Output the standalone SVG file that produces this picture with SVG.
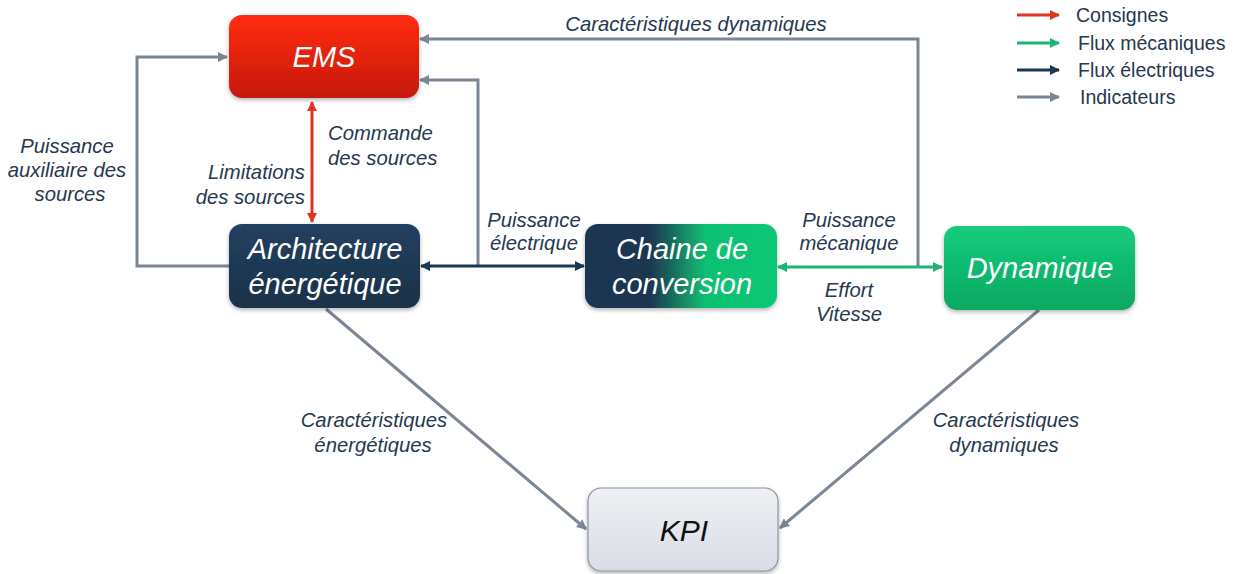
<svg xmlns="http://www.w3.org/2000/svg" width="1235" height="574" viewBox="0 0 1235 574">
<style>
.lbl{font-family:"Liberation Sans",Arial,sans-serif;font-style:italic;font-size:20.3px;fill:#26384f}
.ntx{font-family:"Liberation Sans",Arial,sans-serif;font-style:italic;font-size:29px;fill:#ffffff}
.leg{font-family:"Liberation Sans",Arial,sans-serif;font-size:19.5px;fill:#26384f}
.gray{stroke:#7b8595;stroke-width:3;fill:none}
.red{stroke:#e03424;stroke-width:3;fill:none}
.navy{stroke:#1d3651;stroke-width:3;fill:none}
.green{stroke:#1fb374;stroke-width:3;fill:none}
</style>
<defs>
<linearGradient id="gRed" x1="0" y1="0" x2="0" y2="1"><stop offset="0" stop-color="#ff2c12"/><stop offset="1" stop-color="#c6190b"/></linearGradient>
<linearGradient id="gNavy" x1="0" y1="0" x2="0" y2="1"><stop offset="0" stop-color="#22405f"/><stop offset="1" stop-color="#1b3249"/></linearGradient>
<linearGradient id="gGreen" x1="0" y1="0" x2="0" y2="1"><stop offset="0" stop-color="#13cc7c"/><stop offset="1" stop-color="#0ea862"/></linearGradient>
<linearGradient id="gConv" x1="0" y1="0" x2="1" y2="0"><stop offset="0" stop-color="#1d3651"/><stop offset="0.34" stop-color="#1d3651"/><stop offset="0.63" stop-color="#10c072"/><stop offset="1" stop-color="#10c776"/></linearGradient>
<linearGradient id="gKpi" x1="0" y1="0" x2="0" y2="1"><stop offset="0" stop-color="#eef0f4"/><stop offset="1" stop-color="#d9dde5"/></linearGradient>
<filter id="sh" x="-10%" y="-10%" width="120%" height="130%"><feDropShadow dx="0" dy="2" stdDeviation="2" flood-color="#000" flood-opacity="0.3"/></filter>
<marker id="aGray" viewBox="0 0 10 10" refX="9" refY="5" markerWidth="10" markerHeight="10" markerUnits="userSpaceOnUse" orient="auto-start-reverse"><path d="M0,0 L10,5 L0,10 z" fill="#7b8595"/></marker>
<marker id="aRed" viewBox="0 0 10 10" refX="9" refY="5" markerWidth="10" markerHeight="10" markerUnits="userSpaceOnUse" orient="auto-start-reverse"><path d="M0,0 L10,5 L0,10 z" fill="#e03424"/></marker>
<marker id="aNavy" viewBox="0 0 10 10" refX="9" refY="5" markerWidth="10" markerHeight="10" markerUnits="userSpaceOnUse" orient="auto-start-reverse"><path d="M0,0 L10,5 L0,10 z" fill="#1d3651"/></marker>
<marker id="aGreen" viewBox="0 0 10 10" refX="9" refY="5" markerWidth="10" markerHeight="10" markerUnits="userSpaceOnUse" orient="auto-start-reverse"><path d="M0,0 L10,5 L0,10 z" fill="#1fb374"/></marker>
</defs>
<rect width="1235" height="574" fill="#ffffff"/>

<g id="connectors">
<polyline class="gray" points="918,267 918,39 420,39" marker-end="url(#aGray)"/>
<polyline class="gray" points="478,266 478,80 420,80" marker-end="url(#aGray)"/>
<polyline class="gray" points="229,266 137,266 137,57 227,57" marker-end="url(#aGray)"/>
<line class="red" x1="312" y1="102" x2="312" y2="222" marker-start="url(#aRed)" marker-end="url(#aRed)"/>
<line class="navy" x1="421" y1="266" x2="584" y2="266" marker-start="url(#aNavy)" marker-end="url(#aNavy)"/>
<line class="green" x1="778" y1="267" x2="942" y2="267" marker-start="url(#aGreen)" marker-end="url(#aGreen)"/>
<line class="gray" x1="326" y1="309" x2="586" y2="529" marker-end="url(#aGray)"/>
<line class="gray" x1="1039" y1="310" x2="780" y2="528" marker-end="url(#aGray)"/>
</g>

<g id="labels">
<text class="lbl" x="696" y="31" text-anchor="middle">Caractéristiques dynamiques</text>
<text class="lbl" x="328" y="140">Commande</text>
<text class="lbl" x="328" y="165">des sources</text>
<text class="lbl" x="305" y="179" text-anchor="end">Limitations</text>
<text class="lbl" x="305" y="204" text-anchor="end">des sources</text>
<text class="lbl" x="67" y="153" text-anchor="middle">Puissance</text>
<text class="lbl" x="67" y="177" text-anchor="middle">auxiliaire des</text>
<text class="lbl" x="70" y="201" text-anchor="middle">sources</text>
<text class="lbl" x="534" y="227" text-anchor="middle">Puissance</text>
<text class="lbl" x="534" y="250" text-anchor="middle">électrique</text>
<text class="lbl" x="849" y="227" text-anchor="middle">Puissance</text>
<text class="lbl" x="849" y="250" text-anchor="middle">mécanique</text>
<text class="lbl" x="849" y="297" text-anchor="middle">Effort</text>
<text class="lbl" x="849" y="321" text-anchor="middle">Vitesse</text>
<text class="lbl" x="374" y="427" text-anchor="middle">Caractéristiques</text>
<text class="lbl" x="373" y="452" text-anchor="middle">énergétiques</text>
<text class="lbl" x="1006" y="427" text-anchor="middle">Caractéristiques</text>
<text class="lbl" x="1004" y="452" text-anchor="middle">dynamiques</text>
</g>

<g id="node-ems">
<rect x="229" y="15" width="190" height="83" rx="13" fill="url(#gRed)" filter="url(#sh)"/>
<text class="ntx" x="324" y="67" text-anchor="middle">EMS</text>
</g>
<g id="node-architecture">
<rect x="229" y="224" width="191" height="84" rx="13" fill="url(#gNavy)" filter="url(#sh)"/>
<text class="ntx" x="325" y="259" text-anchor="middle">Architecture</text>
<text class="ntx" x="325" y="294" text-anchor="middle">énergétique</text>
</g>
<g id="node-chaine">
<rect x="585" y="224" width="192" height="84" rx="13" fill="url(#gConv)" filter="url(#sh)"/>
<text class="ntx" x="682" y="259" text-anchor="middle">Chaine de</text>
<text class="ntx" x="682" y="294" text-anchor="middle">conversion</text>
</g>
<g id="node-dynamique">
<rect x="944" y="226" width="191" height="84" rx="13" fill="url(#gGreen)" filter="url(#sh)"/>
<text class="ntx" x="1040" y="278" text-anchor="middle">Dynamique</text>
</g>
<g id="node-kpi">
<rect x="588" y="488" width="190" height="83" rx="13" fill="url(#gKpi)" stroke="#8a93a2" stroke-width="1.2" filter="url(#sh)"/>
<text x="684" y="541" text-anchor="middle" font-family="Liberation Sans, Arial, sans-serif" font-style="italic" font-size="30" fill="#111111">KPI</text>
</g>

<g id="legend">
<line class="red" x1="1017" y1="15" x2="1059" y2="15" marker-end="url(#aRed)"/>
<line class="green" x1="1017" y1="43" x2="1059" y2="43" marker-end="url(#aGreen)"/>
<line class="navy" x1="1017" y1="70" x2="1059" y2="70" marker-end="url(#aNavy)"/>
<line class="gray" x1="1017" y1="97" x2="1059" y2="97" marker-end="url(#aGray)"/>
<text class="leg" x="1076" y="22">Consignes</text>
<text class="leg" x="1078" y="50">Flux mécaniques</text>
<text class="leg" x="1078" y="77">Flux électriques</text>
<text class="leg" x="1080" y="104">Indicateurs</text>
</g>
</svg>
